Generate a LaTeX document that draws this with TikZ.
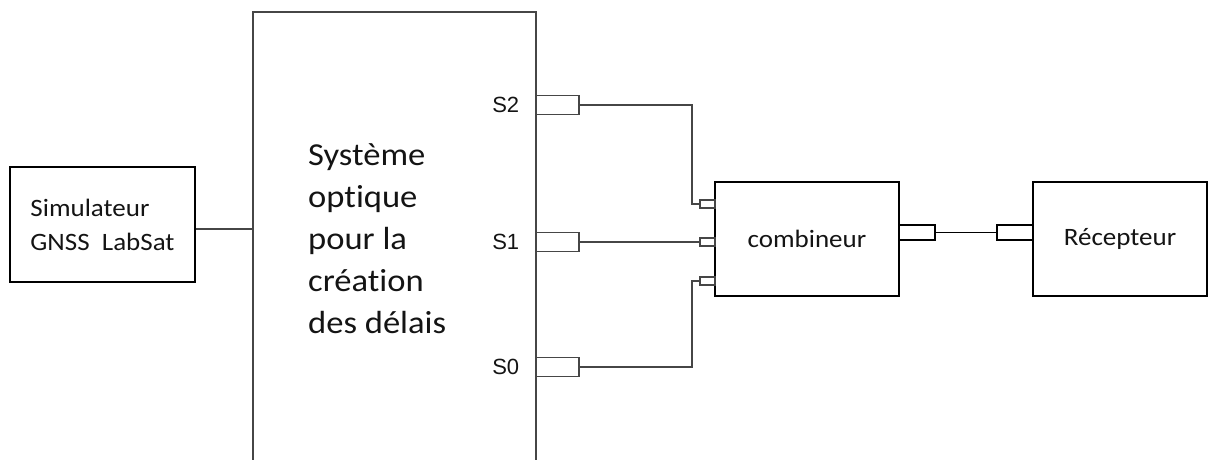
\documentclass[tikz,border=0pt]{standalone}
\usepackage{fontspec}
\setmainfont{Carlito}[FakeStretch=1.08, Ligatures=NoCommon]
\newfontfamily\arialfont{Liberation Sans}
\usetikzlibrary{positioning}
\definecolor{linegray}{RGB}{70,70,70}
\definecolor{txt}{RGB}{20,20,20}

\begin{document}
\begin{tikzpicture}[x=1pt, y=-1pt,
    blk/.style={draw, line width=1.7pt, inner sep=0pt, align=left, text=txt, font=\fontsize{25}{34}\selectfont},
    opt/.style={draw=linegray, line width=1.3pt, inner sep=0pt},
    port/.style={draw=linegray, line width=1.2pt, inner sep=0pt, minimum width=43pt, minimum height=19pt},
    cport/.style={draw=linegray, line width=1.2pt, inner sep=0pt, minimum width=15pt, minimum height=8pt},
    oport/.style={draw, line width=1.5pt, inner sep=0pt, minimum width=36pt, minimum height=15pt},
    lbl/.style={inner sep=0pt, text=txt, font=\arialfont\fontsize{22}{22}\selectfont},
    wire/.style={linegray, line width=1.3pt}]
  \useasboundingbox (0,0) rectangle (1215,460);
  \clip (0,0) rectangle (1215,460);
  % blocks
  \node[blk, minimum width=185pt, minimum height=115pt] (sim) at (102.5,224.5) {Simulateur\\GNSS\ \ LabSat};
  \node[opt, minimum width=283pt, minimum height=470pt] (opt) at (394.5,247) {};
  \node[anchor=west, align=left, inner sep=0pt, text=txt, font=\fontsize{32}{42}\selectfont] (opttxt) at (308,239)
    {Système\\optique\\pour la\\création\\des délais};
  \node[blk, minimum width=184pt, minimum height=114pt] (comb) at (807,239) {combineur};
  \node[blk, minimum width=174pt, minimum height=114pt] (rec) at (1120,239) {Récepteur};
  % ports
  \node[port] (s2p) at (557.5,105) {};
  \node[port] (s1p) at (557.5,242) {};
  \node[port] (s0p) at (557.5,367) {};
  \node[lbl, left=16pt of s2p] (s2) {S2};
  \node[lbl, left=16pt of s1p] (s1) {S1};
  \node[lbl, left=16pt of s0p] (s0) {S0};
  \node[cport] (c2) at (707.5,204) {};
  \node[cport] (c1) at (707.5,242) {};
  \node[cport] (c0) at (707.5,281) {};
  \node[oport] (cout) at (917,232.5) {};
  \node[oport] (rin) at (1015,232.5) {};
  % wires
  \coordinate (bend) at (692,0);
  \draw[wire] ([yshift=-4.5pt]sim.east) -- ([yshift=-4.5pt]sim.east -| opt.west);
  \draw[wire] (s2p.east) -- (s2p.east -| bend) |- (c2.west);
  \draw[wire] (s1p.east) -- (c1.west);
  \draw[wire] (s0p.east) -- (s0p.east -| bend) |- (c0.west);
  \draw[line width=1.5pt] (cout.east) -- (rin.west);
\end{tikzpicture}
\end{document}
